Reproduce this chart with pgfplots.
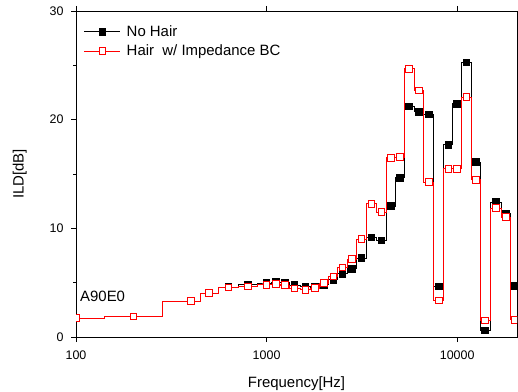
\documentclass[border=0pt]{standalone}
\usepackage{pgfplots}
\pgfplotsset{compat=1.18}
\usepackage{fontspec}
\setmainfont{Liberation Sans}
\usetikzlibrary{calc}
\pgfplotstableread{
f v
100 1.75
200 1.9
400 3.3
500 4.05
630 4.6
800 4.8
1000 4.97
1120 5.06
1250 5.02
1400 4.78
1600 4.66
1800 4.6
2000 4.8
2240 5.27
2500 5.82
2800 6.28
3150 7.27
3550 9.15
4000 8.9
4500 12.05
5000 14.65
5600 21.2
6300 20.73
7100 20.48
8000 4.66
9000 17.69
10000 21.46
11200 25.26
12500 16.1
14000 0.61
16000 12.42
18000 11.34
20000 4.72
}\nohair
\pgfplotstableread{
f v
100 1.75
200 1.9
400 3.3
500 4.05
630 4.56
800 4.65
1000 4.8
1120 4.88
1250 4.77
1400 4.45
1600 4.35
1800 4.5
2000 4.97
2240 5.58
2500 6.4
2800 7.18
3150 9.0
3550 12.26
4000 11.5
4500 16.5
5000 16.56
5600 24.68
6300 22.69
7100 14.26
8000 3.37
9000 15.48
10000 15.48
11200 22.08
12500 14.47
14000 1.53
16000 11.87
18000 11.04
20000 1.59
}\hair
\begin{document}
\begin{tikzpicture}[x=1bp,y=1bp]
\begin{axis}[
  scale only axis,
  width=441bp, height=326bp,
  xmode=log,
  xmin=100, xmax=20600,
  ymin=0, ymax=30,
  log basis x=10,
  xtick={100,1000,10000},
  xticklabels={100,1000,10000},
  ytick={0,10,20,30},
  minor ytick={5,15,25},
  tick align=outside,
  major tick length=5bp,
  minor tick length=3bp,
  axis line style={line width=0.8bp},
  every tick/.style={black, line width=0.8bp},
  xticklabel pos=lower, yticklabel pos=left,
  /pgf/number format/assume math mode=true,
  tick label style={font=\fontsize{12.5}{14}\selectfont},
  xticklabel style={yshift=-5bp},
  yticklabel style={xshift=-4bp},
  label style={font=\fontsize{15}{17}\selectfont},
  xlabel={Frequency[Hz]},
  ylabel={ILD[dB]},
  xlabel style={yshift=-10bp},
  ylabel style={yshift=16bp},
  clip marker paths=true,
  legend style={draw=none, fill=none, at={(0.015,0.965)}, anchor=north west,
    font=\fontsize{15}{17}\selectfont, row sep=3bp, inner sep=1bp,
    nodes={inner xsep=6bp}},
  legend cell align=left,
  legend image code/.code={\draw[mark repeat=2,mark phase=2] plot coordinates {(0bp,0bp) (18bp,0bp) (36bp,0bp)};},
]
\addplot[black, line width=0.9bp, const plot mark mid, mark=square*, mark size=3.3bp, mark options={solid, fill=black, draw=black}] table[x=f,y=v] {\nohair};
\addlegendentry{No Hair}
\addplot[red, line width=0.9bp, const plot mark mid, mark=square*, mark size=3.3bp, mark options={solid, fill=white, draw=red}] table[x=f,y=v] {\hair};
\addlegendentry{Hair\ \ w/ Impedance BC}
\node[anchor=west, font=\fontsize{15}{17}\selectfont, inner sep=0pt] at (rel axis cs:0.009,0.125) {A90E0};
\end{axis}
\pgfresetboundingbox
\path[use as bounding box] ($(current axis.south west)+(-76bp,-55bp)$) rectangle ($(current axis.north east)+(1bp,11bp)$);
\end{tikzpicture}
\end{document}
